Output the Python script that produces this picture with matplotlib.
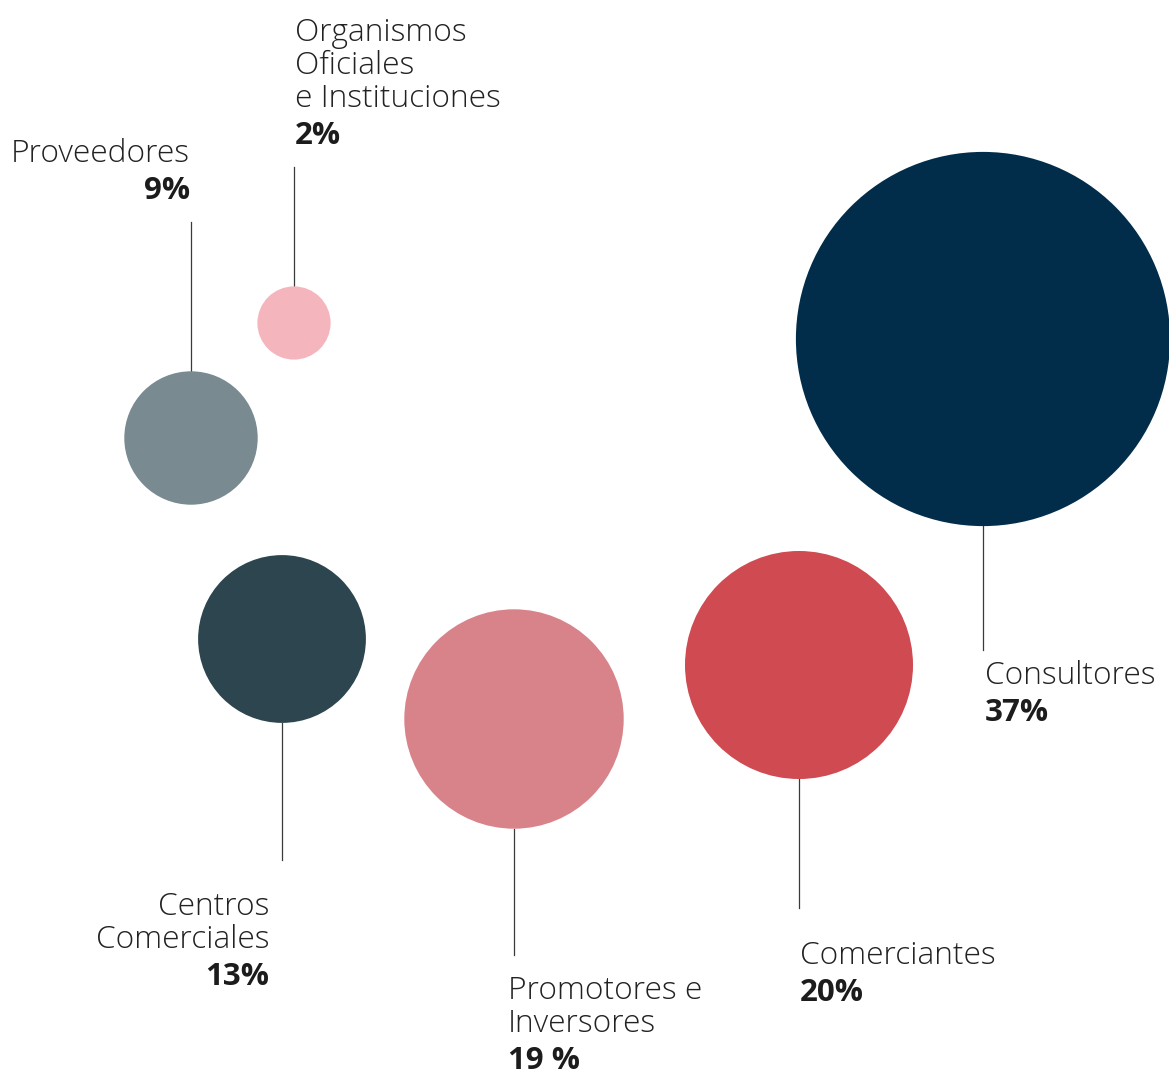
import matplotlib
matplotlib.use("Agg")
import matplotlib.pyplot as plt
from matplotlib.patches import Circle

# share of each group (percent)
names = ["Consultores", "Comerciantes", "Promotores e\nInversores",
         "Centros\nComerciales", "Proveedores",
         "Organismos\nOficiales\ne Instituciones"]
values = [37, 20, 19, 13, 9, 2]
value_labels = ["37%", "20%", "19 %", "13%", "9%", "2%"]
colors = ["#012d4b", "#cf4a51", "#d8828a", "#2c454e", "#7a8a91", "#f5b5bd"]

# layout in pixels (y grows downward)
centers = [(983, 339), (799, 665), (514, 719), (282, 639), (191, 438), (294, 323)]
label_pos = [(985, 676), (800, 956), (508, 991), (269, 907), (190, 154), (295, 33)]
label_ha = ["left", "left", "left", "right", "right", "left"]
line_side = [1, 1, 1, 1, -1, -1]      # +1 leader goes down, -1 goes up
line_end = [650, 908, 955, 860, 222, 167]

W, H = 1169, 1076
fig = plt.figure(figsize=(W / 100, H / 100), dpi=100)
ax = fig.add_axes([0, 0, 1, 1])
ax.set_xlim(0, W)
ax.set_ylim(H, 0)
ax.set_aspect("equal")
ax.axis("off")

font = "Open Sans"
step = 33

def radius(v):
    return 28 + 4.3 * v

for i, v in enumerate(values):
    cx, cy = centers[i]
    r = radius(v)
    ax.add_patch(Circle((cx, cy), r, color=colors[i], lw=0, zorder=2))
    y0 = cy + line_side[i] * r
    ax.plot([cx, cx], [y0, line_end[i]], color="#3a3a3a", lw=0.9, zorder=1)

    lx, ly = label_pos[i]
    lines = names[i].split("\n")
    for j, t in enumerate(lines):
        ax.text(lx, ly + j * step, t, ha=label_ha[i], va="center",
                fontsize=22.8, family=font, weight="light", color="#222222")
    ax.text(lx, ly + (len(lines) - 1) * step + 37, value_labels[i],
            ha=label_ha[i], va="center", fontsize=22.5, family=font,
            weight="bold", color="#1c1c1c")

fig.savefig("out.png", dpi=100)
